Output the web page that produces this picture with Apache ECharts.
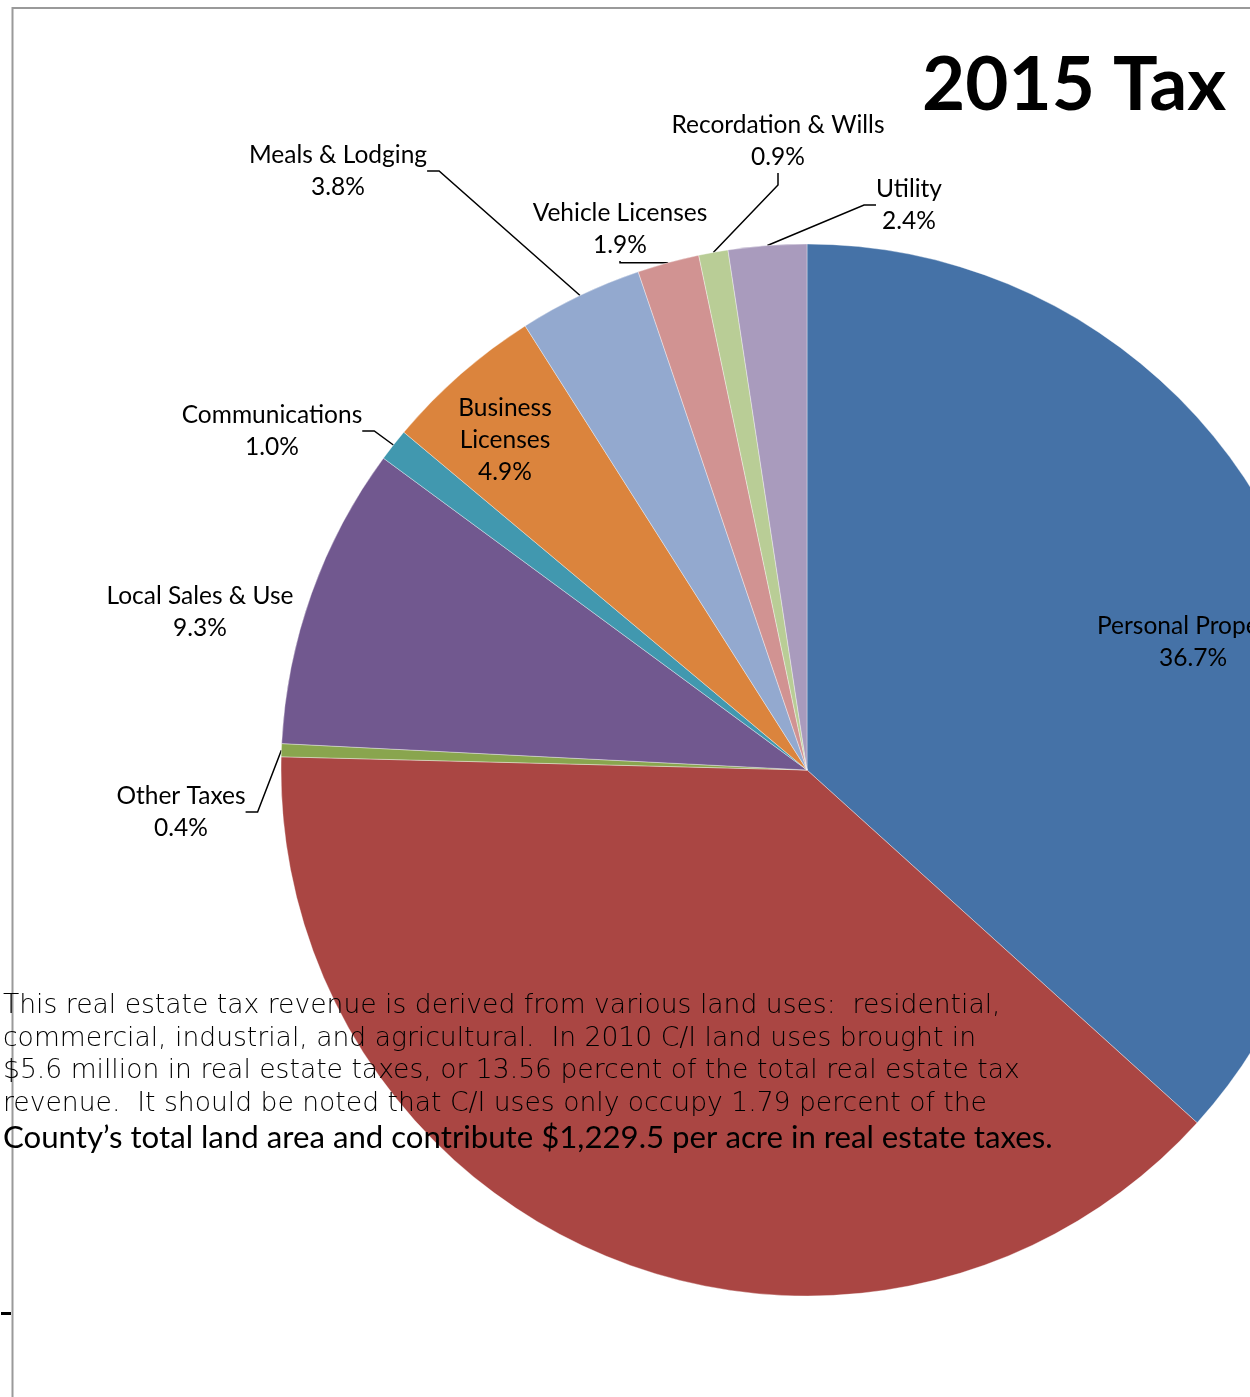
<!DOCTYPE html>
<html><head><meta charset="utf-8">
<script src="https://cdn.jsdelivr.net/npm/echarts@6/dist/echarts.min.js"></script>
<style>html,body{margin:0;padding:0;overflow:hidden;background:#fff;width:1250px;height:1397px}
#c{width:1800px;height:1397px}</style></head>
<body><div id="c"></div>
<script>
const categories = ['Personal Property','Real Estate','Other Taxes','Local Sales & Use','Communications','Business Licenses','Meals & Lodging','Vehicle Licenses','Recordation & Wills','Utility'];
const values = [36.7, 38.7, 0.4, 9.3, 1.0, 4.9, 3.8, 1.9, 0.9, 2.4];
const colors = ['#4572A7','#AA4643','#89A54E','#71588F','#4198AF','#DB843D','#93A9CF','#D19392','#B9CD96','#A99BBD'];
const titleText = '2015 Tax';
const noteLines = [
  'This real estate tax revenue is derived from various land uses:  residential,',
  'commercial, industrial, and agricultural.  In 2010 C/I land uses brought in',
  '$5.6 million in real estate taxes, or 13.56 percent of the total real estate tax',
  'revenue.  It should be noted that C/I uses only occupy 1.79 percent of the'
];
const noteLastLine = 'County\u2019s total land area and contribute $1,229.5 per acre in real estate taxes.';

// label placement (centres of label text blocks) - layout only
const labelPlace = [
  [1193, 642], null, [181, 812], [200, 612], [272, 431],
  [505, 440], [338, 171], [620, 229], [778, 141], [909, 205]
];
const insideIdx = [0, 5];
const noLineIdx = [3];
const hiddenIdx = [1];

const data = categories.map((name, i) => ({
  name, value: values[i],
  itemStyle: { color: colors[i] },
  label: hiddenIdx.includes(i) ? { show: false } :
    (insideIdx.includes(i) ? { position: 'inside' } : {}),
  labelLine: (noLineIdx.includes(i) || insideIdx.includes(i) || hiddenIdx.includes(i)) ? { show: false } : { show: true }
}));

const chart = echarts.init(document.getElementById('c'));
const graphics = [
  { type: 'line', shape: { x1: 12, y1: 8, x2: 1800, y2: 8 }, style: { stroke: '#9a9a9a', lineWidth: 2 }, z: 100 },
  { type: 'line', shape: { x1: 12.5, y1: 7, x2: 12.5, y2: 1397 }, style: { stroke: '#9a9a9a', lineWidth: 2 }, z: 100 },
  { type: 'line', shape: { x1: 1, y1: 1313.5, x2: 11, y2: 1313.5 }, style: { stroke: '#000', lineWidth: 3 }, z: 100 }
];
noteLines.forEach((t, i) => {
  graphics.push({ type: 'text', x: 3, y: 1006 + i * 32.7, z: 101,
    style: { text: t, fill: '#000', font: '200 26.6px "DejaVu Sans"', textVerticalAlign: 'middle' } });
});
graphics.push({ type: 'text', x: 3, y: 1007 + 4 * 32.7, z: 101,
  style: { text: noteLastLine, fill: '#000', font: '31.2px Lato', textVerticalAlign: 'middle' } });

chart.setOption({
  animation: false,
  title: { text: titleText, left: 917, top: 43,
    textStyle: { fontFamily: 'Lato', fontWeight: 'bold', fontSize: 74.5, color: '#000' } },
  graphic: graphics,
  series: [{
    type: 'pie',
    center: [807, 770],
    radius: 526,
    startAngle: 90,
    clockwise: true,
    data,
    itemStyle: { borderColor: 'rgba(255,255,255,0.6)', borderWidth: 0.6 },
    label: {
      show: true,
      position: 'outside',
      color: '#000',
      fontFamily: 'Lato',
      fontSize: 24.5,
      lineHeight: 32,
      align: 'center',
      formatter: p => (p.name === 'Business Licenses' ? 'Business\nLicenses' : p.name) + '\n' + p.value.toFixed(1) + '%'
    },
    labelLine: { show: true, length: 15, length2: 12, lineStyle: { color: '#000', width: 1.5 } },
    labelLayout: params => {
      const p = labelPlace[params.dataIndex];
      if (!p) return {};
      return { x: p[0], y: p[1], align: 'center', verticalAlign: 'middle' };
    }
  }]
});
</script></body></html>
